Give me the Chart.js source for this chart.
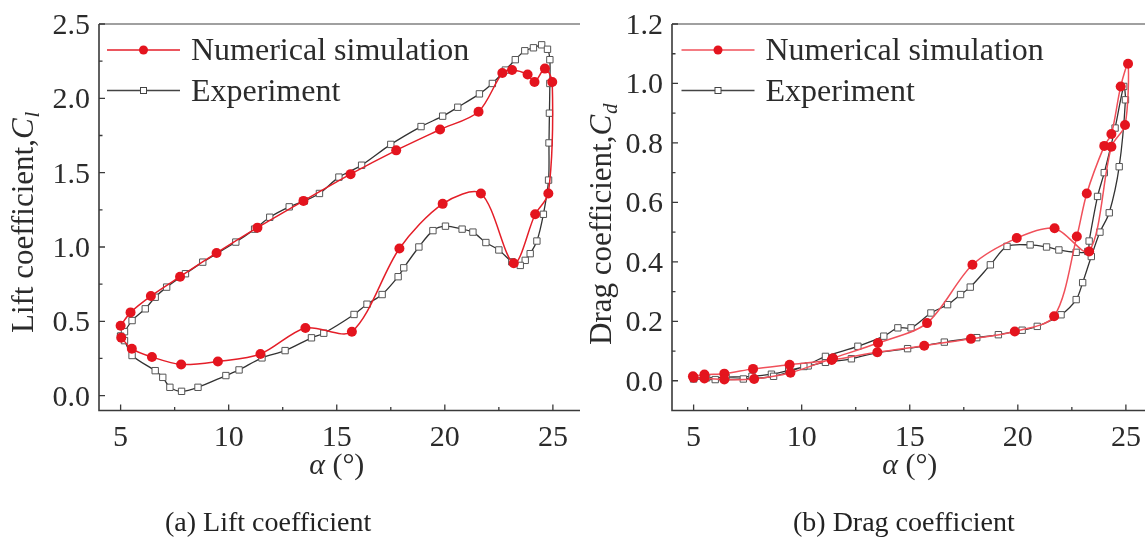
<!DOCTYPE html>
<html>
<head>
<meta charset="utf-8">
<script src="https://cdn.jsdelivr.net/npm/chart.js@4/dist/chart.umd.min.js"></script>
<style>
  html, body { margin: 0; padding: 0; background: #fff; overflow: hidden; }
  #page { position: relative; width: 1145px; height: 540px; overflow: hidden; }
  .panel { position: absolute; top: 0; width: 580px; height: 540px; }
</style>
</head>
<body>
<div id="page">
  <div class="panel" style="left:0"><canvas id="lift"></canvas></div>
  <div class="panel" style="left:573px"><canvas id="drag"></canvas></div>
</div>
<script>
// ---- data ----
const alphaTicks = [5, 10, 15, 20, 25];
const alphaMinor = [7.5, 12.5, 17.5, 22.5];
const liftTicks = [0, 0.5, 1.0, 1.5, 2.0, 2.5];
const liftMinor = [0.25, 0.75, 1.25, 1.75, 2.25];
const dragTicks = [0, 0.2, 0.4, 0.6, 0.8, 1.0, 1.2];
const dragMinor = [0.1, 0.3, 0.5, 0.7, 0.9, 1.1];

// lift, numerical simulation (upstroke then downstroke)
const liftSimAlpha = [5.0, 5.46, 6.4, 7.75, 9.44, 11.33, 13.46, 15.64, 17.75, 19.78, 21.56, 22.66, 23.11, 23.83, 24.15, 24.63, 24.97,
  24.79, 24.18, 23.19, 21.67, 19.9, 17.9, 15.7, 13.55, 11.47, 9.5, 7.8, 6.45, 5.52, 5.03];
const liftSimCl = [0.47, 0.56, 0.67, 0.80, 0.96, 1.13, 1.31, 1.49, 1.65, 1.79, 1.91, 2.17, 2.19, 2.16, 2.11, 2.20, 2.11,
  1.36, 1.22, 0.89, 1.36, 1.29, 0.99, 0.43, 0.455, 0.28, 0.23, 0.21, 0.26, 0.315, 0.39];

// lift, experiment
const liftExpAlpha = [5.0, 5.18, 5.53, 6.14, 6.6, 7.13, 8.0, 8.8, 10.33, 11.2, 11.9, 12.8, 13.5, 14.2, 15.1, 16.15, 17.5, 18.9, 19.9, 20.6,
  21.6, 22.2, 22.8, 23.26, 23.7, 24.1, 24.48, 24.75, 24.86, 24.86, 24.84, 24.82, 24.8, 24.56, 24.26, 23.95, 23.72, 23.49, 23.1,
  22.5, 21.9, 21.3, 20.8, 20.03, 19.45, 18.8, 18.1, 17.84, 17.1, 16.4, 15.8, 14.4, 13.83, 12.61, 11.54, 10.48, 9.87, 8.58,
  7.82, 7.28, 6.95, 6.6, 5.53, 5.18, 5.0];
const liftExpCl = [0.40, 0.43, 0.505, 0.584, 0.662, 0.73, 0.82, 0.898, 1.033, 1.12, 1.2, 1.27, 1.31, 1.36, 1.47, 1.55, 1.69, 1.81, 1.88, 1.94,
  2.03, 2.10, 2.19, 2.26, 2.32, 2.34, 2.36, 2.33, 2.26, 2.10, 1.90, 1.70, 1.45, 1.22, 1.04, 0.955, 0.91, 0.876, 0.90,
  0.98, 1.03, 1.10, 1.12, 1.14, 1.11, 1.0, 0.86, 0.80, 0.68, 0.615, 0.546, 0.42, 0.389, 0.303, 0.254, 0.173, 0.135, 0.056,
  0.029, 0.056, 0.123, 0.168, 0.27, 0.37, 0.40];

// drag, numerical simulation
const dragSimAlpha = [4.97, 5.5, 6.42, 7.75, 9.44, 11.39, 13.5, 15.67, 17.83, 19.86, 21.68, 22.73, 23.19, 24.0, 24.33, 24.76, 25.1,
  24.96, 24.33, 23.3, 21.7, 19.95, 17.9, 15.8, 13.53, 11.45, 9.48, 7.8, 6.42, 5.5, 5.0];
const dragSimCd = [0.015, 0.021, 0.024, 0.04, 0.054, 0.07, 0.096, 0.118, 0.141, 0.166, 0.217, 0.485, 0.63, 0.79, 0.83, 0.99, 1.066,
  0.86, 0.787, 0.435, 0.513, 0.48, 0.39, 0.194, 0.127, 0.076, 0.027, 0.006, 0.004, 0.008, 0.01];

// drag, experiment
const dragExpAlpha = [5.0, 5.6, 6.5, 7.7, 8.6, 9.4, 10.3, 11.1, 12.3, 13.5, 14.9, 16.6, 18.1, 19.1, 20.2, 20.9, 22.0, 22.7, 23.0,
  23.4, 23.8, 24.23, 24.69, 24.98, 24.9, 24.5, 24.0, 23.69, 23.3, 23.24, 22.7, 21.9, 21.33, 20.57, 19.5, 18.73, 17.8,
  17.35, 16.75, 15.98, 15.06, 14.45, 13.8, 12.6, 11.1, 10.1, 8.7, 7.3, 6.0, 5.0];
const dragExpCd = [0.012, 0.01, 0.012, 0.015, 0.022, 0.035, 0.05, 0.062, 0.074, 0.095, 0.108, 0.13, 0.145, 0.155, 0.17, 0.183, 0.222, 0.273, 0.33,
  0.418, 0.50, 0.565, 0.72, 0.945, 0.99, 0.85, 0.70, 0.62, 0.47, 0.435, 0.432, 0.44, 0.45, 0.457, 0.452, 0.39, 0.315,
  0.29, 0.256, 0.228, 0.178, 0.178, 0.15, 0.116, 0.082, 0.048, 0.015, 0.006, 0.004, 0.006];

const SERIF = '"Liberation Serif", "DejaVu Serif", serif';
const RED = 'rgb(228, 20, 30)';
const INK = '#2b2b2b';

const zip = (xs, ys) => xs.map((x, i) => ({x: x, y: ys[i]}));

// frame, inward ticks, labels, titles and legend drawn against the chart scales
const decorPlugin = {
  id: 'decor',
  afterDraw(chart, args, opts) {
    const {ctx, chartArea: a} = chart;
    const xs = chart.scales.x;
    const ys = chart.scales.y;
    ctx.save();
    // frame (right edge is cropped in the original)
    ctx.strokeStyle = '#808080';
    ctx.lineWidth = 1.4;
    ctx.beginPath();
    ctx.moveTo(chart.width + 20, a.top);
    ctx.lineTo(a.left, a.top);
    ctx.stroke();
    ctx.strokeStyle = '#3a3a3a';
    ctx.lineWidth = 1.6;
    ctx.beginPath();
    ctx.moveTo(a.left, a.top);
    ctx.lineTo(a.left, a.bottom);
    ctx.lineTo(chart.width + 20, a.bottom);
    ctx.stroke();

    ctx.lineWidth = 1.3;
    ctx.beginPath();
    alphaTicks.forEach((v) => {
      const px = xs.getPixelForValue(v);
      ctx.moveTo(px, a.bottom);
      ctx.lineTo(px, a.bottom - 6);
    });
    alphaMinor.forEach((v) => {
      const px = xs.getPixelForValue(v);
      ctx.moveTo(px, a.bottom);
      ctx.lineTo(px, a.bottom - 3.5);
    });
    opts.major.forEach((v) => {
      const py = ys.getPixelForValue(v);
      ctx.moveTo(a.left, py);
      ctx.lineTo(a.left + 6, py);
    });
    opts.minor.forEach((v) => {
      const py = ys.getPixelForValue(v);
      ctx.moveTo(a.left, py);
      ctx.lineTo(a.left + 3.5, py);
    });
    ctx.stroke();

    // tick labels
    ctx.fillStyle = INK;
    ctx.font = '30px ' + SERIF;
    ctx.textAlign = 'center';
    ctx.textBaseline = 'alphabetic';
    alphaTicks.forEach((v) => {
      ctx.fillText(String(v), xs.getPixelForValue(v), a.bottom + 35);
    });
    ctx.textAlign = 'right';
    opts.major.forEach((v) => {
      ctx.fillText(v.toFixed(1), a.left - 9, ys.getPixelForValue(v) + 10);
    });

    // x title: alpha (deg)
    const cx = xs.getPixelForValue(15);
    ctx.font = 'italic 30px ' + SERIF;
    const wA = ctx.measureText('\u03b1').width;
    ctx.font = '30px ' + SERIF;
    const wB = ctx.measureText(' (\u00b0)').width;
    ctx.textAlign = 'left';
    ctx.font = 'italic 30px ' + SERIF;
    ctx.fillText('\u03b1', cx - (wA + wB) / 2, 474);
    ctx.font = '30px ' + SERIF;
    ctx.fillText(' (\u00b0)', cx - (wA + wB) / 2 + wA, 474);

    // y title, rotated
    ctx.save();
    ctx.translate(opts.titleX, opts.titleY);
    ctx.rotate(-Math.PI / 2);
    ctx.font = '31px ' + SERIF;
    ctx.fillText(opts.title, 0, 0);
    let w = ctx.measureText(opts.title).width;
    ctx.font = 'italic 31px ' + SERIF;
    ctx.fillText('C', w, 0);
    w += ctx.measureText('C').width;
    ctx.font = 'italic 21px ' + SERIF;
    ctx.fillText(opts.sub, w + 1, 6);
    ctx.restore();

    // caption
    ctx.font = '28px ' + SERIF;
    ctx.fillStyle = '#222';
    ctx.fillText(opts.caption, opts.captionX, 531);

    // legend
    const lx0 = opts.legendX;
    const lx1 = lx0 + 73;
    const lm = (lx0 + lx1) / 2;
    ctx.strokeStyle = opts.simLine;
    ctx.lineWidth = 1.6;
    ctx.beginPath();
    ctx.moveTo(lx0, 50);
    ctx.lineTo(lx1, 50);
    ctx.stroke();
    ctx.fillStyle = RED;
    ctx.beginPath();
    ctx.arc(lm, 50, 4.5, 0, Math.PI * 2);
    ctx.fill();
    ctx.strokeStyle = '#444';
    ctx.lineWidth = 1.4;
    ctx.beginPath();
    ctx.moveTo(lx0, 90.5);
    ctx.lineTo(lx1, 90.5);
    ctx.stroke();
    ctx.fillStyle = '#fff';
    ctx.fillRect(lm - 3, 87.5, 6, 6);
    ctx.lineWidth = 1;
    ctx.strokeRect(lm - 3, 87.5, 6, 6);
    ctx.fillStyle = INK;
    ctx.font = '32px ' + SERIF;
    ctx.fillText('Numerical simulation', lx1 + 11, 60);
    ctx.fillText('Experiment', lx1 + 11, 101);
    ctx.restore();
  },
};

function makeChart(id, sim, exp, yMin, yMax, decor) {
  return new Chart(document.getElementById(id), {
    type: 'scatter',
    data: {
      datasets: [
        {
          label: 'Numerical simulation',
          data: sim,
          showLine: true,
          tension: 0.3,
          borderColor: decor.simLine,
          borderWidth: 1.5,
          pointRadius: 5,
          pointBackgroundColor: RED,
          pointBorderWidth: 0,
        },
        {
          label: 'Experiment',
          data: exp,
          showLine: true,
          tension: 0.3,
          borderColor: '#333',
          borderWidth: 1.3,
          pointStyle: 'rect',
          pointRadius: 4.5,
          pointBackgroundColor: '#fff',
          pointBorderColor: '#555',
          pointBorderWidth: 1,
        },
      ],
    },
    options: {
      responsive: false,
      animation: false,
      devicePixelRatio: 1,
      layout: {padding: {top: 24, left: 0, right: 0, bottom: 0}},
      plugins: {
        legend: {display: false},
        tooltip: {enabled: false},
        decor: decor,
      },
      scales: {
        x: {
          type: 'linear',
          min: 4,
          max: 26,
          grid: {display: false},
          border: {display: false},
          ticks: {display: false},
          afterFit: (s) => { s.height = 129.5; },
        },
        y: {
          type: 'linear',
          min: yMin,
          max: yMax,
          grid: {display: false},
          border: {display: false},
          ticks: {display: false},
          afterFit: (s) => { s.width = 99; },
        },
      },
    },
    plugins: [decorPlugin],
  });
}

for (const id of ['lift', 'drag']) {
  const c = document.getElementById(id);
  c.width = 580;
  c.height = 540;
}

makeChart('lift', zip(liftSimAlpha, liftSimCl), zip(liftExpAlpha, liftExpCl), -0.1, 2.5, {
  major: liftTicks,
  minor: liftMinor,
  title: 'Lift coefficient,',
  sub: 'l',
  titleX: 33,
  titleY: 333,
  caption: '(a) Lift coefficient',
  captionX: 165,
  legendX: 107,
  simLine: 'rgb(228, 30, 40)',
});

makeChart('drag', zip(dragSimAlpha, dragSimCd), zip(dragExpAlpha, dragExpCd), -0.1, 1.2, {
  major: dragTicks,
  minor: dragMinor,
  title: 'Drag coefficient,',
  sub: 'd',
  titleX: 38,
  titleY: 345,
  caption: '(b) Drag coefficient',
  captionX: 220,
  legendX: 108.5,
  simLine: 'rgb(240, 80, 90)',
});
</script>
</body>
</html>
